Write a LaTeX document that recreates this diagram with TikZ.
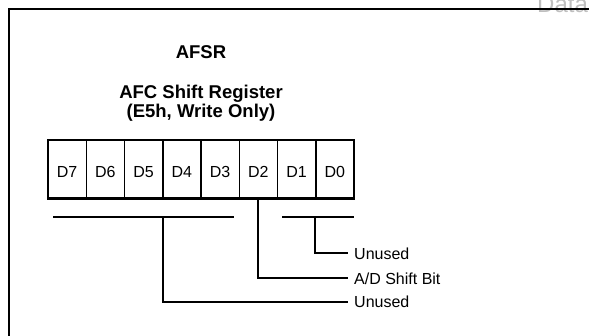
\documentclass[tikz,border=0pt]{standalone}
\usepackage{fontspec}
\setmainfont{Liberation Sans}
\begin{document}
\begin{tikzpicture}[x=1pt,y=-1pt,
  cell/.style={draw,line width=1.5pt,minimum width=38.25pt,minimum height=58pt,inner sep=0pt,
    font=\fontsize{16}{16}\selectfont,text height=17pt,text depth=0pt},
  title/.style={anchor=base,inner sep=0pt,font=\fontsize{18.5}{18.5}\selectfont\bfseries},
  lab/.style={anchor=west,inner xsep=6pt,inner ysep=0pt,font=\fontsize{16}{16}\selectfont,
    text height=11.5pt,text depth=0pt},
  conn/.style={line width=2pt},
  frame/.style={line width=2.6pt}]
\useasboundingbox (0,0) rectangle (589,335);
\clip (0,0) rectangle (589,335);
% faint header text behind the frame
\node[anchor=base west,inner sep=0pt,text=black!25,font=\fontsize{24}{24}\selectfont] (data) at (537,12) {Data};
% frame
\coordinate (fbl) at (9,345);
\coordinate (ftl) at (9,9);
\coordinate (ftr) at (600,9);
\draw[frame] (fbl) -- (ftl) -- (ftr);
% titles
\node[title] (t1) at (201,58) {AFSR};
\node[title] (t2) at (201,98) {AFC Shift Register};
\node[title] (t3) at (201,117) {(E5h, Write Only)};
% register cells
\foreach \i/\n in {0/7,1/6,2/5,3/4,4/3,5/2,6/1,7/0}{
  \node[cell] (d\n) at ({48+38.25*\i+19.125},169) {D\n};
}
\draw[line width=2.6pt] (d7.south west) -- (d0.south east);
% bars
\coordinate (bl1) at (53,216.7);
\coordinate (bl2) at (234,216.7);
\coordinate (br1) at (282,216.7);
\coordinate (br2) at (354,216.7);
\draw[conn] (bl1) -- (bl2);
\draw[conn] (br1) -- (br2);
\coordinate (tl) at (163,216.7);
\coordinate (tr) at (315,216.7);
% labels
\node[lab] (l1) at (348,253.3) {Unused};
\node[lab] (l2) at (348,278.3) {A/D Shift Bit};
\node[lab] (l3) at (348,301.7) {Unused};
% connectors
\draw[conn] (tr) |- (l1.west);
\draw[conn] (d2.south) |- (l2.west);
\draw[conn] (tl) |- (l3.west);
\end{tikzpicture}
\end{document}
